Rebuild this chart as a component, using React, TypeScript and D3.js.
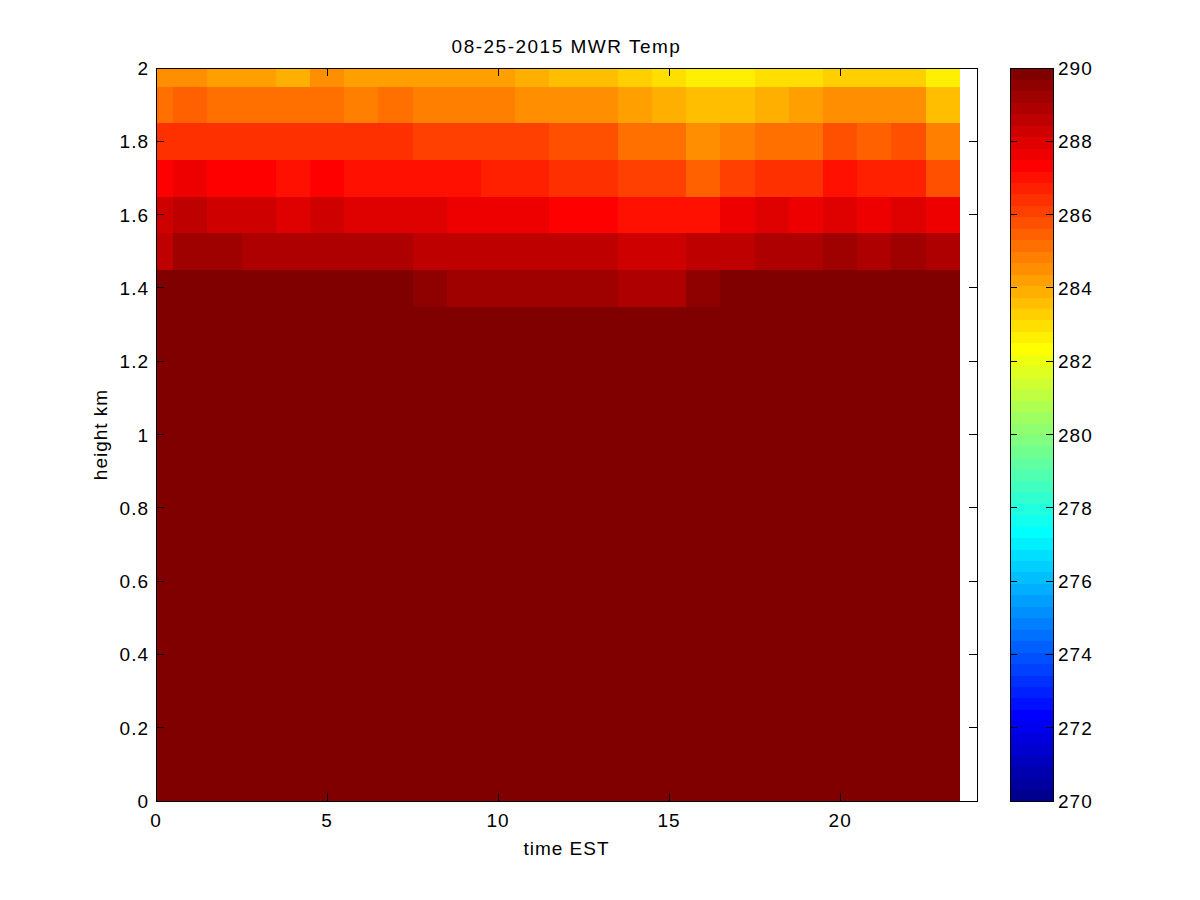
import React from "react";
import * as d3 from "d3";

// ---- data ----
const title = "08-25-2015 MWR Temp";
const xLabel = "time EST";
const yLabel = "height km";

const hours = [0, 1, 2, 3, 4, 5, 6, 7, 8, 9, 10, 11, 12, 13, 14, 15, 16, 17, 18, 19, 20, 21, 22, 23];
const heights = [0, 0.1, 0.2, 0.3, 0.4, 0.5, 0.6, 0.7, 0.8, 0.9, 1.0, 1.1, 1.2, 1.3, 1.4, 1.5, 1.6, 1.7, 1.8, 1.9, 2.0];

// lower levels (0 - 1.3 km): all above the top of the colour range
const lowerProfile = [297.8, 297.1, 296.5, 295.9, 295.3, 294.6, 294.0, 293.4, 292.8, 292.3, 291.7, 291.2, 290.8, 290.4];

const temp14 = [290.2, 290.2, 290.2, 290.2, 290.2, 290.2, 290.2, 290.2, 289.53, 289.22, 289.22, 289.22, 289.22, 289.22, 288.91, 288.91, 289.53, 290.2, 290.2, 290.2, 290.2, 290.2, 290.2, 290.2];
const temp15 = [288.59, 289.22, 289.22, 288.91, 288.91, 288.91, 288.91, 288.91, 288.59, 288.59, 288.59, 288.59, 288.59, 288.59, 288.28, 288.28, 288.59, 288.59, 288.91, 288.91, 289.22, 288.91, 289.22, 288.91];
const temp16 = [288.28, 288.59, 288.28, 288.28, 287.97, 288.28, 287.97, 287.97, 287.97, 287.66, 287.66, 287.66, 287.34, 287.34, 287.03, 287.03, 287.03, 287.66, 287.97, 287.66, 287.97, 287.66, 287.97, 287.66];
const temp17 = [287.34, 287.66, 287.34, 287.34, 287.03, 287.34, 287.03, 287.03, 287.03, 287.03, 286.72, 286.72, 286.41, 286.41, 286.09, 286.09, 285.47, 286.09, 286.41, 286.41, 287.03, 286.72, 286.72, 285.78];
const temp18 = [286.41, 286.41, 286.41, 286.41, 286.41, 286.41, 286.41, 286.41, 286.09, 286.09, 286.09, 286.09, 285.78, 285.78, 285.16, 285.16, 284.53, 284.84, 285.16, 285.16, 285.78, 285.47, 285.78, 284.84];
const temp19 = [285.16, 285.47, 285.16, 285.16, 285.16, 285.16, 284.84, 285.16, 284.84, 284.84, 284.84, 284.53, 284.53, 284.53, 284.22, 283.91, 283.59, 283.59, 283.91, 284.22, 284.53, 284.53, 284.53, 283.59];
const temp20 = [284.53, 284.53, 284.22, 284.22, 283.91, 284.53, 284.22, 284.22, 284.22, 284.22, 284.22, 283.91, 283.59, 283.59, 283.28, 282.97, 282.66, 282.66, 282.97, 282.97, 283.28, 283.28, 283.28, 282.66];

const xTicks = [0, 5, 10, 15, 20];
const yTicks = [0, 0.2, 0.4, 0.6, 0.8, 1, 1.2, 1.4, 1.6, 1.8, 2];
const cTicks = [270, 272, 274, 276, 278, 280, 282, 284, 286, 288, 290];
const cRange = [270, 290];

// ---- MATLAB jet(64) ----
function jet(n: number): string[] {
  const q = Math.ceil(n / 4);
  const u: number[] = [];
  for (let i = 1; i <= q; i++) u.push(i / q);
  for (let i = 1; i < q; i++) u.push(1);
  for (let i = q; i >= 1; i--) u.push(i / q);
  const g0 = Math.ceil(q / 2) - (n % 4 === 1 ? 1 : 0);
  const r = new Array(n).fill(0), g = new Array(n).fill(0), b = new Array(n).fill(0);
  u.forEach((val, i) => {
    const gi = g0 + i + 1; const ri = gi + q; const bi = gi - q;
    if (gi >= 1 && gi <= n) g[gi - 1] = val;
    if (ri >= 1 && ri <= n) r[ri - 1] = val;
    if (bi >= 1 && bi <= n) b[bi - 1] = val;
  });
  return r.map((_, i) => d3.rgb(r[i] * 255, g[i] * 255, b[i] * 255).formatHex());
}
const cmap = jet(64);
const colorOf = (v: number) => {
  let k = Math.floor(((v - cRange[0]) / (cRange[1] - cRange[0])) * 64);
  k = Math.max(0, Math.min(63, k));
  return cmap[k];
};

export default function App() {
  const W = 1200, H = 900;
  const L = 156, R = 977, T = 68, B = 801;
  const x = d3.scaleLinear().domain([0, 24]).range([L, R]);
  const y = d3.scaleLinear().domain([0, 2]).range([B, T]);
  const cb = { l: 1010, r: 1053 };
  const cy = d3.scaleLinear().domain(cRange).range([B, T]);

  const upper = [temp14, temp15, temp16, temp17, temp18, temp19, temp20];
  const grid: number[][] = heights.map((h, i) =>
    i < lowerProfile.length ? hours.map(() => lowerProfile[i]) : upper[i - lowerProfile.length]
  );

  const font = "'Liberation Sans', Arial, Helvetica, sans-serif";
  const fs = 19;
  const tl = 8;

  const cells: React.ReactNode[] = [];
  heights.forEach((h, i) => {
    hours.forEach((t, j) => {
      const x0 = Math.max(0, t - 0.5), x1 = Math.min(24, t + 0.5);
      const y0 = Math.max(0, h - 0.05), y1 = Math.min(2, h + 0.05);
      const px0 = x(x0), px1 = x(x1), py0 = y(y1), py1 = y(y0);
      cells.push(
        <rect key={`${i}-${j}`} x={px0} y={py0} width={px1 - px0 + 0.5} height={py1 - py0 + 0.5}
          fill={colorOf(grid[i][j])} />
      );
    });
  });

  const step = (cRange[1] - cRange[0]) / 64;
  const cbRects = cmap.map((c, k) => {
    const v0 = cRange[0] + k * step, v1 = v0 + step;
    return <rect key={k} x={cb.l} y={cy(v1)} width={cb.r - cb.l} height={cy(v0) - cy(v1) + 0.5} fill={c} />;
  });

  return (
    <svg width={W} height={H} style={{ position: "absolute", left: 0, top: 0, background: "#fff" }}
      fontFamily={font}>
      <rect x={0} y={0} width={W} height={H} fill="#fff" />
      <defs>
        <clipPath id="ax"><rect x={L} y={T} width={R - L} height={B - T} /></clipPath>
      </defs>
      <g clipPath="url(#ax)" shapeRendering="crispEdges">{cells}</g>
      {/* axes box */}
      <rect x={L} y={T} width={R - L} height={B - T} fill="none" stroke="#000" strokeWidth={1} shapeRendering="crispEdges" />
      {/* x ticks */}
      {xTicks.map((t) => (
        <g key={`xt${t}`}>
          <line x1={x(t)} x2={x(t)} y1={B} y2={B - tl} stroke="#000" shapeRendering="crispEdges" />
          <line x1={x(t)} x2={x(t)} y1={T} y2={T + tl} stroke="#000" shapeRendering="crispEdges" />
          <text x={x(t)} y={827} fontSize={fs} textAnchor="middle" letterSpacing={1}>{String(t)}</text>
        </g>
      ))}
      {yTicks.map((t) => (
        <g key={`yt${t}`}>
          <line x1={L} x2={L + tl} y1={y(t)} y2={y(t)} stroke="#000" shapeRendering="crispEdges" />
          <line x1={R} x2={R - tl} y1={y(t)} y2={y(t)} stroke="#000" shapeRendering="crispEdges" />
          <text x={149} y={y(t) + 7} fontSize={fs} textAnchor="end" letterSpacing={1}>{String(+t.toFixed(1))}</text>
        </g>
      ))}
      <text x={(L + R) / 2} y={855} fontSize={fs} textAnchor="middle" letterSpacing={1}>{xLabel}</text>
      <text transform={`translate(107,${(T + B) / 2}) rotate(-90)`} fontSize={fs} textAnchor="middle" letterSpacing={1}>{yLabel}</text>
      <text x={(L + R) / 2} y={53} fontSize={fs} textAnchor="middle" letterSpacing={1.5}>{title}</text>
      {/* colorbar */}
      <g shapeRendering="crispEdges">{cbRects}</g>
      <rect x={cb.l} y={T} width={cb.r - cb.l} height={B - T} fill="none" stroke="#000" shapeRendering="crispEdges" />
      {cTicks.map((t) => (
        <g key={`ct${t}`}>
          <line x1={cb.l} x2={cb.l + 7} y1={cy(t)} y2={cy(t)} stroke="#000" shapeRendering="crispEdges" />
          <line x1={cb.r} x2={cb.r - 7} y1={cy(t)} y2={cy(t)} stroke="#000" shapeRendering="crispEdges" />
          <text x={1058} y={cy(t) + 7} fontSize={fs} textAnchor="start" letterSpacing={1}>{String(t)}</text>
        </g>
      ))}
    </svg>
  );
}
